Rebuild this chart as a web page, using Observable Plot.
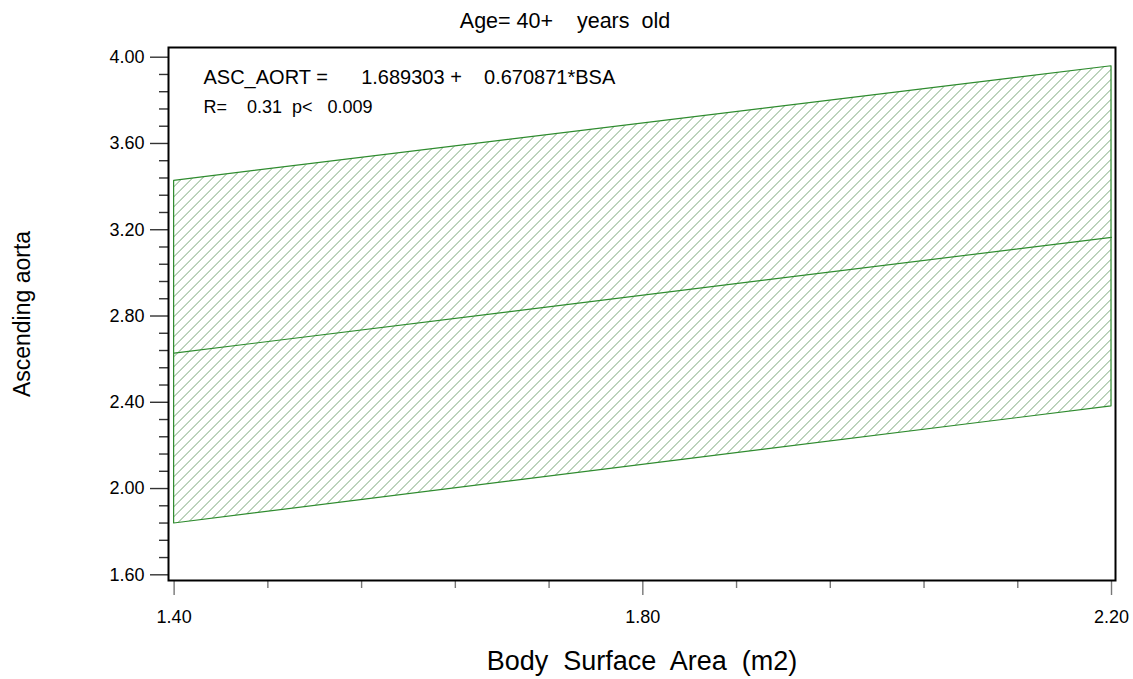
<!DOCTYPE html>
<html><head><meta charset="utf-8">
<script src="https://cdn.jsdelivr.net/npm/d3@7"></script>
<script src="https://cdn.jsdelivr.net/npm/@observablehq/plot@0.6"></script>
<style>
body{margin:0;background:#fff}
svg{display:block}
svg text{white-space:pre}
</style>
</head><body><div id="chart"></div>
<script>
// Regression fit and confidence band (Body Surface Area vs Ascending aorta)
const bsa   = [1.40, 2.20];
const fit   = [2.628, 3.165];
const upper = [3.427, 3.958];
const lower = [1.838, 2.381];

// Axis ticks
const yTicks = [1.6, 2.0, 2.4, 2.8, 3.2, 3.6, 4.0];
const yMinor = [1.68,1.76,1.84,1.92, 2.08,2.16,2.24,2.32, 2.48,2.56,2.64,2.72,
                2.88,2.96,3.04,3.12, 3.28,3.36,3.44,3.52, 3.68,3.76,3.84,3.92];
const xTicks = [1.40, 1.80, 2.20];
const xMinor = [1.48,1.56,1.64,1.72, 1.88,1.96,2.04,2.12];

// Texts
const titleText = ["Age= 40+    years  old"];
const equation  = ["ASC_AORT =      1.689303 +    0.670871*BSA"];
const stats     = ["R=    0.31  p<   0.009"];
const xLabel    = ["Body  Surface  Area  (m2)"];
const yLabel    = ["Ascending aorta"];

const data = bsa.map((x, i) => ({bsa: x, fit: fit[i], upper: upper[i], lower: lower[i]}));
const green = "#2e8b2e";

const chart = Plot.plot({
  width: 1133, height: 679,
  marginTop: 47, marginBottom: 99, marginLeft: 168, marginRight: 18,
  x: {domain: [1.3952, 2.2034]},
  y: {domain: [1.5736, 4.045]},
  style: {fontFamily: "'Liberation Sans', Arial, Helvetica, sans-serif", background: "#fff", color: "#000"},
  marks: [
    Plot.areaY(data, {x: "bsa", y1: "lower", y2: "upper", fill: "url(#hatch)", stroke: green, strokeWidth: 1.2}),
    Plot.line(data, {x: "bsa", y: "fit", stroke: green, strokeWidth: 1.2}),
    Plot.axisY(yTicks, {tickSize: 18, tickPadding: 6, tickFormat: d3.format(".2f"), fontSize: 18, label: null, stroke: "#333", strokeWidth: 1.4}),
    Plot.axisY(yMinor, {tickSize: 9, tickFormat: () => "", label: null, stroke: "#333", strokeWidth: 1.4}),
    Plot.axisX(xTicks, {tickSize: 15, tickPadding: 15, tickFormat: d3.format(".2f"), fontSize: 18, label: null, stroke: "#777", strokeWidth: 1.4}),
    Plot.axisX(xMinor, {tickSize: 8, tickFormat: () => "", label: null, stroke: "#777", strokeWidth: 1.4}),
    Plot.frame({stroke: "#000", strokeWidth: 2}),
    Plot.text(titleText, {text: d => d, frameAnchor: "top", lineAnchor: "middle", dx: -77, dy: -26.4, fontSize: 21.5}),
    Plot.text(equation, {text: d => d, frameAnchor: "top-left", lineAnchor: "middle", textAnchor: "start", dx: 35, dy: 30, fontSize: 20}),
    Plot.text(stats, {text: d => d, frameAnchor: "top-left", lineAnchor: "middle", textAnchor: "start", dx: 35, dy: 60.2, fontSize: 18}),
    Plot.text(xLabel, {text: d => d, frameAnchor: "bottom", lineAnchor: "middle", dy: 80.4, fontSize: 27}),
    Plot.text(yLabel, {text: d => d, frameAnchor: "left", lineAnchor: "middle", textAnchor: "middle", dx: -146, rotate: -90, fontSize: 23})
  ]
});

const defs = d3.select(chart).insert("defs", ":first-child");
const pat = defs.append("pattern")
  .attr("id", "hatch").attr("patternUnits", "userSpaceOnUse")
  .attr("width", 7.07).attr("height", 7.07)
  .attr("patternTransform", "rotate(45)");
pat.append("line").attr("x1", 0).attr("y1", 0).attr("x2", 0).attr("y2", 7.07)
  .attr("stroke", "#4a874a").attr("stroke-width", 1.1);

document.getElementById("chart").appendChild(chart);
</script>
</body></html>
